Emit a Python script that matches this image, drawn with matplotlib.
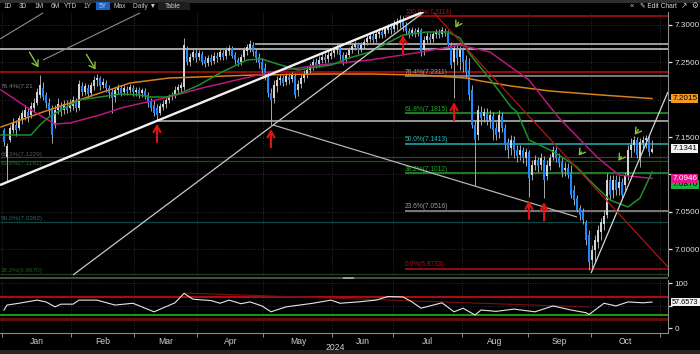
#!/usr/bin/env python3
"""
USDCNH daily candles for 2024 with moving averages, fibonacci levels,
hand drawn trend lines and an RSI panel (dark terminal style)
"""
import numpy as np
import matplotlib
matplotlib.use('Agg')
import matplotlib.pyplot as plt
from matplotlib.patches import Rectangle

plt.rcParams['font.family'] = ['Liberation Sans', 'DejaVu Sans']

# ---------------- daily candles (one line per month, Jan .. Oct) ----------------
opens = [
    7.159, 7.123, 7.146, 7.159, 7.166, 7.162, 7.173, 7.177, 7.184, 7.180, 7.189, 7.196, 7.206, 7.216, 7.206, 7.196, 7.189, 7.166, 7.186, 7.192, 7.186, 7.192, 7.189,
    7.192, 7.197, 7.189, 7.218, 7.210, 7.216, 7.209, 7.218, 7.226, 7.229, 7.220, 7.222, 7.216, 7.210, 7.204, 7.213, 7.216, 7.210, 7.214, 7.213, 7.216,
    7.210, 7.213, 7.209, 7.212, 7.206, 7.197, 7.193, 7.189, 7.182, 7.190, 7.194, 7.200, 7.204, 7.205, 7.213, 7.216, 7.217, 7.267, 7.250, 7.257, 7.263,
    7.257, 7.261, 7.253, 7.249, 7.256, 7.252, 7.258, 7.257, 7.263, 7.258, 7.265, 7.269, 7.260, 7.253, 7.250, 7.257, 7.265, 7.269, 7.273, 7.265, 7.257, 7.250,
    7.242, 7.233, 7.209, 7.202, 7.218, 7.226, 7.229, 7.224, 7.230, 7.228, 7.232, 7.213, 7.221, 7.229, 7.233, 7.240, 7.245, 7.250, 7.248, 7.253, 7.257, 7.254, 7.258,
    7.263, 7.267, 7.269, 7.260, 7.253, 7.260, 7.267, 7.271, 7.275, 7.268, 7.273, 7.277, 7.281, 7.285, 7.281, 7.288, 7.291, 7.288, 7.293, 7.296,
    7.295, 7.300, 7.303, 7.307, 7.299, 7.292, 7.289, 7.292, 7.291, 7.293, 7.267, 7.280, 7.284, 7.281, 7.288, 7.289, 7.288, 7.292, 7.289, 7.273, 7.250, 7.267, 7.257,
    7.267, 7.253, 7.240, 7.213, 7.166, 7.153, 7.184, 7.178, 7.182, 7.173, 7.178, 7.162, 7.157, 7.178, 7.162, 7.143, 7.135, 7.146, 7.133, 7.126, 7.133, 7.122,
    7.130, 7.099, 7.113, 7.119, 7.113, 7.119, 7.098, 7.111, 7.123, 7.133, 7.122, 7.117, 7.106, 7.108, 7.102, 7.079, 7.068, 7.055, 7.050, 7.036, 7.019,
    6.985, 6.999, 7.009, 7.023, 7.034, 7.046, 7.092, 7.079, 7.092, 7.082, 7.090, 7.086, 7.098, 7.133, 7.139, 7.146, 7.122, 7.142, 7.146, 7.149, 7.130,
]
closes = [
    7.143, 7.138, 7.162, 7.170, 7.159, 7.175, 7.182, 7.186, 7.175, 7.192, 7.196, 7.210, 7.220, 7.204, 7.196, 7.186, 7.153, 7.186, 7.194, 7.184, 7.194, 7.186, 7.196,
    7.200, 7.189, 7.221, 7.210, 7.218, 7.208, 7.220, 7.226, 7.229, 7.218, 7.224, 7.216, 7.209, 7.202, 7.213, 7.217, 7.209, 7.216, 7.212, 7.217, 7.210,
    7.213, 7.208, 7.213, 7.206, 7.196, 7.189, 7.182, 7.180, 7.192, 7.194, 7.200, 7.204, 7.205, 7.213, 7.217, 7.220, 7.273, 7.250, 7.257, 7.264, 7.256,
    7.263, 7.250, 7.248, 7.256, 7.250, 7.258, 7.256, 7.264, 7.257, 7.267, 7.269, 7.258, 7.253, 7.249, 7.257, 7.267, 7.271, 7.275, 7.264, 7.256, 7.249, 7.240,
    7.233, 7.209, 7.200, 7.220, 7.226, 7.229, 7.222, 7.232, 7.226, 7.233, 7.206, 7.221, 7.229, 7.233, 7.240, 7.245, 7.250, 7.246, 7.253, 7.257, 7.253, 7.260, 7.263,
    7.267, 7.271, 7.260, 7.250, 7.260, 7.267, 7.272, 7.275, 7.267, 7.273, 7.277, 7.283, 7.285, 7.280, 7.288, 7.291, 7.287, 7.295, 7.297, 7.293,
    7.301, 7.304, 7.307, 7.299, 7.292, 7.288, 7.293, 7.289, 7.293, 7.264, 7.280, 7.285, 7.280, 7.288, 7.291, 7.287, 7.293, 7.289, 7.273, 7.246, 7.269, 7.256, 7.267,
    7.250, 7.237, 7.206, 7.166, 7.146, 7.186, 7.175, 7.184, 7.173, 7.180, 7.159, 7.153, 7.180, 7.162, 7.139, 7.133, 7.146, 7.133, 7.125, 7.133, 7.122, 7.130,
    7.095, 7.113, 7.119, 7.111, 7.122, 7.092, 7.113, 7.122, 7.133, 7.122, 7.115, 7.103, 7.108, 7.099, 7.072, 7.066, 7.052, 7.046, 7.039, 7.012, 6.983,
    6.999, 7.012, 7.026, 7.036, 7.044, 7.092, 7.072, 7.092, 7.079, 7.090, 7.072, 7.098, 7.133, 7.139, 7.146, 7.126, 7.143, 7.146, 7.149, 7.130, 7.1341,
]
highs = [
    7.162, 7.142, 7.166, 7.175, 7.173, 7.180, 7.186, 7.193, 7.189, 7.197, 7.202, 7.216, 7.233, 7.224, 7.210, 7.202, 7.193, 7.193, 7.202, 7.197, 7.200, 7.200, 7.201,
    7.205, 7.202, 7.226, 7.224, 7.222, 7.221, 7.224, 7.232, 7.234, 7.232, 7.229, 7.226, 7.220, 7.216, 7.217, 7.221, 7.220, 7.220, 7.218, 7.221, 7.220,
    7.217, 7.217, 7.216, 7.216, 7.210, 7.202, 7.200, 7.194, 7.196, 7.200, 7.204, 7.208, 7.210, 7.218, 7.221, 7.224, 7.283, 7.272, 7.263, 7.269, 7.268,
    7.267, 7.265, 7.258, 7.260, 7.261, 7.264, 7.264, 7.268, 7.267, 7.271, 7.273, 7.272, 7.264, 7.257, 7.261, 7.271, 7.275, 7.280, 7.277, 7.269, 7.263, 7.256,
    7.249, 7.237, 7.216, 7.226, 7.232, 7.234, 7.233, 7.236, 7.236, 7.237, 7.236, 7.226, 7.234, 7.240, 7.245, 7.249, 7.254, 7.256, 7.258, 7.263, 7.263, 7.265, 7.267,
    7.271, 7.275, 7.273, 7.264, 7.264, 7.271, 7.276, 7.279, 7.277, 7.277, 7.281, 7.287, 7.291, 7.289, 7.293, 7.296, 7.296, 7.299, 7.301, 7.303,
    7.307, 7.309, 7.313, 7.312, 7.304, 7.296, 7.297, 7.296, 7.297, 7.296, 7.285, 7.291, 7.289, 7.292, 7.295, 7.295, 7.297, 7.296, 7.293, 7.277, 7.273, 7.273, 7.272,
    7.271, 7.260, 7.256, 7.220, 7.173, 7.193, 7.192, 7.189, 7.189, 7.186, 7.184, 7.170, 7.186, 7.184, 7.167, 7.149, 7.153, 7.151, 7.139, 7.139, 7.137, 7.135,
    7.133, 7.119, 7.126, 7.123, 7.129, 7.125, 7.119, 7.127, 7.138, 7.137, 7.129, 7.123, 7.117, 7.115, 7.113, 7.086, 7.072, 7.059, 7.055, 7.039, 7.026,
    7.005, 7.019, 7.032, 7.041, 7.052, 7.102, 7.099, 7.099, 7.099, 7.098, 7.095, 7.103, 7.139, 7.149, 7.151, 7.150, 7.149, 7.151, 7.153, 7.151, 7.146,
]
lows = [
    7.138, 7.090, 7.143, 7.155, 7.151, 7.159, 7.167, 7.173, 7.170, 7.175, 7.184, 7.193, 7.202, 7.200, 7.189, 7.180, 7.142, 7.162, 7.181, 7.178, 7.181, 7.182, 7.184,
    7.186, 7.184, 7.186, 7.205, 7.206, 7.202, 7.205, 7.213, 7.218, 7.213, 7.216, 7.210, 7.202, 7.182, 7.197, 7.208, 7.205, 7.206, 7.206, 7.209, 7.205,
    7.205, 7.202, 7.204, 7.201, 7.190, 7.185, 7.178, 7.173, 7.180, 7.186, 7.189, 7.196, 7.200, 7.202, 7.208, 7.210, 7.213, 7.246, 7.245, 7.253, 7.250,
    7.253, 7.246, 7.244, 7.245, 7.246, 7.248, 7.250, 7.253, 7.253, 7.254, 7.260, 7.256, 7.248, 7.245, 7.246, 7.253, 7.260, 7.264, 7.258, 7.250, 7.242, 7.236,
    7.226, 7.204, 7.166, 7.196, 7.210, 7.220, 7.218, 7.220, 7.221, 7.224, 7.202, 7.205, 7.216, 7.224, 7.229, 7.236, 7.240, 7.242, 7.244, 7.249, 7.249, 7.250, 7.254,
    7.257, 7.261, 7.253, 7.246, 7.249, 7.256, 7.263, 7.267, 7.261, 7.264, 7.269, 7.273, 7.277, 7.275, 7.277, 7.283, 7.283, 7.284, 7.289, 7.288,
    7.291, 7.293, 7.296, 7.292, 7.287, 7.283, 7.285, 7.284, 7.285, 7.258, 7.260, 7.275, 7.275, 7.277, 7.283, 7.283, 7.284, 7.285, 7.269, 7.242, 7.202, 7.246, 7.240,
    7.237, 7.229, 7.200, 7.162, 7.084, 7.146, 7.166, 7.170, 7.166, 7.162, 7.146, 7.146, 7.149, 7.157, 7.133, 7.122, 7.126, 7.122, 7.117, 7.119, 7.115, 7.111,
    7.070, 7.092, 7.106, 7.103, 7.106, 7.068, 7.092, 7.106, 7.119, 7.117, 7.110, 7.096, 7.098, 7.095, 7.068, 7.059, 7.050, 7.039, 7.034, 7.005, 6.972,
    6.975, 6.983, 7.001, 7.012, 7.026, 7.041, 7.066, 7.068, 7.072, 7.072, 7.068, 7.079, 7.092, 7.123, 7.130, 7.122, 7.110, 7.133, 7.135, 7.125, 7.129,
]

# ---------------- moving averages (day index, price) ----------------
ma_green_x = [-1, 9, 12, 15, 19, 25, 32, 39, 45, 49, 54, 59, 65, 72, 81, 86, 90, 98, 102, 109,
              115, 122, 133, 141, 148, 152, 155, 163, 169, 171, 175, 182, 186, 191, 195, 202, 208, 212, 216]
ma_green_y = [7.1527, 7.1527, 7.1661, 7.1768, 7.1862, 7.1996, 7.2036, 7.2076, 7.2063, 7.2036,
              7.2036, 7.2089, 7.2196, 7.2357, 7.2531, 7.2545, 7.2491, 7.2397, 7.2424, 7.2464,
              7.2558, 7.2638, 7.2866, 7.2906, 7.2906, 7.2826, 7.2625, 7.2223, 7.1902, 7.1835,
              7.1460, 7.1326, 7.1232, 7.1098, 7.0924, 7.0656, 7.0563, 7.0683, 7.1031]
ma_mag_x = [-1, 9, 17, 22, 32, 39, 55, 66, 89, 105, 122, 139, 152, 162, 175, 185, 198, 205, 216]
ma_mag_y = [7.2130, 7.1862, 7.1674, 7.1688, 7.1795, 7.1889, 7.2036, 7.2156, 7.2371, 7.2464,
            7.2531, 7.2638, 7.2732, 7.2638, 7.2263, 7.1755, 7.1219, 7.0991, 7.0946]
ma_orange_x = [-1, 13, 28, 42, 55, 83, 105, 122, 139, 154, 159, 169, 182, 199, 216]
ma_orange_y = [7.1634, 7.1835, 7.2036, 7.2223, 7.2290, 7.2330, 7.2344, 7.2344, 7.2330, 7.2290,
               7.2250, 7.2183, 7.2116, 7.2063, 7.2015]

# ---------------- RSI (day index, value) ----------------
rsi_x = [0, 1, 5, 11, 14, 17, 19, 23, 25, 31, 37, 43, 50, 57, 60, 63, 69, 72, 75, 79,
         82, 86, 89, 94, 103, 109, 112, 118, 124, 128, 133, 136, 139, 146, 150, 153, 157, 159, 164, 170,
         177, 183, 189, 194, 195, 200, 204, 208, 213, 216]
rsi_v = [40, 51, 55, 62, 58, 47, 53, 53, 62, 62, 51, 55, 36, 56, 77, 64, 61, 55, 62, 54,
         58, 49, 36, 47, 55, 62, 55, 58, 62, 70, 69, 58, 44, 56, 36, 44, 29, 40, 37, 42,
         36, 49, 40, 34, 30, 55, 49, 58, 56, 57.6573]
rsi_levels = [70, 30, 21]

# ---------------- drawn levels and lines ----------------
fib_right = [7.3114, 7.2311, 7.1815, 7.1413, 7.1012, 7.0516, 6.9733]
fib_right_names = ['100.0%', '76.4%', '61.8%', '50.0%', '38.2%', '23.6%', '0.0%']
fib_left = [7.2140, 7.1229, 7.1181, 7.0362, 6.9670]
fib_left_names = ['76.4%(7.21', '66.3%(7.1229)', '61.8%(7.1181)', '50.0%(7.0362)', '38.2%(6.9670)']
hlines_p = [7.2752, 7.2685, 7.2377, 7.1714]
hlines_from = [83.7, -1.5, -1.5, 51.3]

trend_x0 = [-1.33, 23.0, -1.33, 13.0, 89.7, 195.7, 143.0]
trend_p0 = [7.0857, 6.9652, 7.2813, 7.2531, 7.1661, 6.9680, 7.3174]
trend_x1 = [139.7, 140.0, 13.0, 45.3, 191.0, 221.3, 221.3]
trend_p1 = [7.3174, 7.3174, 7.3161, 7.3161, 7.0429, 7.2103, 6.9759]
rsi_trend_x = [60, 195]
rsi_trend_v = [77.8, 46.7]

red_arrow_days = [51, 89, 133, 150, 175, 180]
green_tip_x = [12, 31, 150, 191, 204.3, 209.7]
green_tip_p = [7.240, 7.237, 7.293, 7.122, 7.115, 7.150]
green_tail_x = [8, 27, 152, 193, 206.3, 212]
green_tail_p = [7.267, 7.264, 7.307, 7.133, 7.127, 7.163]

months = ['Jan', 'Feb', 'Mar', 'Apr', 'May', 'Jun', 'Jul', 'Aug', 'Sep', 'Oct']
month_start = [0, 23, 44, 65, 87, 110, 130, 153, 175, 196, 219]

# ---------------- figure ----------------
W, H = 700.0, 354.0
fig = plt.figure(figsize=(7.0, 3.54), dpi=100)
fig.patch.set_facecolor('black')

ax = fig.add_axes([0, 1 - 276 / H, 668 / W, (276 - 12) / H])
rx = fig.add_axes([0, 1 - 333 / H, 668 / W, (333 - 280) / H])
XMIN, XMAX = -1.33, 221.33
for a in (ax, rx):
    a.set_facecolor('black')
    for s in ('top', 'left', 'bottom'):
        a.spines[s].set_visible(False)
    a.spines['right'].set_color('#8c8c8c')
    a.spines['right'].set_linewidth(0.8)
    a.set_xlim(XMIN, XMAX)
    a.yaxis.tick_right()
    for m in month_start:
        a.axvline(m - 0.5, color='#3a3a3a', lw=0.6, ls=(0, (1, 2)), zorder=0)

grid_col = '#3a3a3a'
ax.set_ylim(6.9639, 7.3174)
yt = [7.00, 7.05, 7.10, 7.15, 7.20, 7.25, 7.30]
ax.set_yticks(yt)
# 7.2000 and 7.1000 sit under the value boxes in the terminal view
ax.set_yticklabels(['' if v in (7.10, 7.20) else '%.4f' % v for v in yt])
for v in yt:
    ax.axhline(v, color=grid_col, lw=0.6, ls=(0, (1, 2)), zorder=0)
ax.tick_params(axis='y', colors='#e0e0e0', labelsize=5.9, length=3, width=0.9, pad=1.5)
ax.set_xticks([])

# horizontal levels
ax.hlines(hlines_p[0], hlines_from[0], XMAX, color='#a9a9a9', lw=1.3, zorder=1)
ax.hlines(hlines_p[1], hlines_from[1], XMAX, color='#b4b4b4', lw=1.3, zorder=1)
ax.hlines(hlines_p[2], hlines_from[2], XMAX, color='#a30c0c', lw=1.3, zorder=1)
ax.hlines(hlines_p[3], hlines_from[3], XMAX, color='#a5a5a5', lw=1.3, zorder=1)

right_cols = ['#b30f0f', '#9b9b9b', '#22a32a', '#22b4b4', '#22a32a', '#9b9b9b', '#b30f0f']
fib_x0 = 133.7
for lev, name, col in zip(fib_right, fib_right_names, right_cols):
    ax.hlines(lev, fib_x0, XMAX, color=col, lw=1.1, zorder=1)
    ax.text(fib_x0, lev + 0.0008, '%s(%.4f)' % (name, lev), color=col, fontsize=4.8,
            ha='left', va='bottom', zorder=2)

left_cols = ['#6a6a6a', '#3c3c3c', '#145214', '#0f4545', '#1f3f1f']
left_txt_cols = ['#7a7a7a', '#4a5a4a', '#1f6a1f', '#1d6b6b', '#1f5a1f']
left_va = ['bottom', 'bottom', 'top', 'bottom', 'bottom']
for lev, name, col, tcol, va in zip(fib_left, fib_left_names, left_cols, left_txt_cols, left_va):
    if lev < 7.2:
        ax.hlines(lev, XMIN, XMAX, color=col, lw=0.9, zorder=1)
    off = 0.0008 if va == 'bottom' else -0.0008
    ax.text(-1.0, lev + off, name, color=tcol, fontsize=4.6, ha='left', va=va, zorder=1)

# candles
x = np.arange(len(closes))
o = np.array(opens)
c = np.array(closes)
h = np.array(highs)
l = np.array(lows)
up = c >= o
ax.vlines(x, l, h, color='#a8a8a8', lw=0.7, zorder=3)
bottom = np.minimum(o, c)
height = np.maximum(np.abs(c - o), 0.0009)
ax.bar(x[up], height[up], bottom=bottom[up], width=0.62, color='#d2d2d2', lw=0, zorder=4)
ax.bar(x[~up], height[~up], bottom=bottom[~up], width=0.62, color='#1e88ff', lw=0, zorder=4)

# moving averages
ax.plot(ma_orange_x, ma_orange_y, color='#d9801a', lw=1.1, zorder=5)
ax.plot(ma_mag_x, ma_mag_y, color='#b8177f', lw=1.1, zorder=5)
ax.plot(ma_green_x, ma_green_y, color='#1d8f2b', lw=1.1, zorder=5)

# trend lines
trend_cols = ['#f2f2f2', '#c8c8c8', '#8c8c8c', '#8c8c8c', '#b4b4b4', '#d6d6d6', '#b01515']
trend_lws = [1.7, 0.9, 0.8, 0.8, 0.9, 0.9, 0.9]
for i in range(len(trend_x0)):
    ax.plot([trend_x0[i], trend_x1[i]], [trend_p0[i], trend_p1[i]],
            color=trend_cols[i], lw=trend_lws[i], zorder=6, solid_capstyle='butt')

# arrows
for d in red_arrow_days:
    tip = lows[d] - 0.0015
    ax.annotate('', xy=(d, tip), xytext=(d, tip - 0.032),
                arrowprops=dict(arrowstyle='->,head_length=0.45,head_width=0.25',
                                color='#e01212', lw=1.5), zorder=7)
for tx, tp, sx, sp in zip(green_tip_x, green_tip_p, green_tail_x, green_tail_p):
    ax.annotate('', xy=(tx, tp), xytext=(sx, sp),
                arrowprops=dict(arrowstyle='->,head_length=0.4,head_width=0.25',
                                color='#86c23a', lw=1.0), zorder=7)

# value boxes on the price axis
def price_box(axis, val, text, fc, tc, size=5.9):
    axis.annotate(text, xy=(1, val), xycoords=('axes fraction', 'data'),
                  xytext=(3.0, 0), textcoords='offset points', va='center', ha='left',
                  fontsize=size, color=tc, annotation_clip=False, zorder=10,
                  bbox=dict(boxstyle='square,pad=0.12', fc=fc, ec='none'))

price_box(ax, ma_orange_y[-1], '%.4f' % ma_orange_y[-1], '#f39a1e', 'black')
price_box(ax, closes[-1], '%.4f' % closes[-1], '#f2f2f2', 'black')
price_box(ax, 7.0870, '7.0870', '#20b040', 'black')
price_box(ax, ma_mag_y[-1], '%.4f' % ma_mag_y[-1], '#e3168c', 'white')

# ---------------- RSI panel ----------------
rx.set_ylim(-11.1, 106.7)
rx.set_yticks([0, 50, 100])
rx.set_yticklabels(['0', '', '100'])
rx.tick_params(axis='y', colors='#e0e0e0', labelsize=5.9, length=3, width=0.9, pad=1.5)
rx.axhline(100, color=grid_col, lw=0.6, ls=(0, (1, 2)), zorder=0)
rx.axhline(50, color=grid_col, lw=0.6, ls=(0, (1, 2)), zorder=0)
rx.axhline(rsi_levels[0], color='#b00c0c', lw=1.4, zorder=1)
rx.axhline(rsi_levels[1], color='#1fc41f', lw=1.1, zorder=1)
rx.axhline(rsi_levels[2], color='#6e0a0a', lw=2.0, zorder=1)
rx.plot(rsi_trend_x, rsi_trend_v, color='#7a1010', lw=0.8, zorder=2)
rx.plot(rsi_x, rsi_v, color='#e6e6e6', lw=0.8, zorder=3)
price_box(rx, rsi_v[-1], '%.4f' % rsi_v[-1], '#f2f2f2', 'black', size=5.3)

centers = [(month_start[i] + month_start[i + 1]) / 2 - 0.5 for i in range(len(months))]
rx.set_xticks(centers)
rx.set_xticklabels(months)
rx.set_xticks([m - 0.5 for m in month_start], minor=True)
rx.tick_params(axis='x', which='major', length=0, colors='#cfcfcf', labelsize=6.2, pad=3)
rx.tick_params(axis='x', which='minor', length=3, color='#8c8c8c', width=0.7)
rx.spines['bottom'].set_visible(True)
rx.spines['bottom'].set_color('#8c8c8c')
rx.spines['bottom'].set_linewidth(0.8)
fig.text(335 / W, 1 - 348 / H, '2024', color='#cfcfcf', fontsize=6.2, ha='center', va='center')

# ---------------- frame decorations ----------------
fig.add_artist(Rectangle((0, 1 - 279 / H), 668 / W, 2.5 / H, transform=fig.transFigure,
                         fc='#4a4a4a', ec='none'))
fig.add_artist(Rectangle((343 / W, 1 - 279 / H), 11 / W, 2.0 / H, transform=fig.transFigure,
                         fc='#9a9a9a', ec='none'))
fig.add_artist(Rectangle((0, 0), 1, 4 / H, transform=fig.transFigure, fc='#262626', ec='none'))

# toolbar
fig.add_artist(Rectangle((0, 1 - 2.5 / H), 1, 2.5 / H, transform=fig.transFigure,
                         fc='#2e2e2e', ec='none'))
buttons = ['1D', '3D', '1M', '6M', 'YTD', '1Y', '5Y', 'Max', 'Daily \u25bc', 'Table']
btn_x = [8, 23, 39, 55, 70, 88, 103, 120, 145, 173]
for lab, bx in zip(buttons, btn_x):
    if lab == '5Y':
        fig.add_artist(Rectangle((96 / W, 1 - 10 / H), 14 / W, 7.5 / H,
                                 transform=fig.transFigure, fc='#1a62c4', ec='none'))
    if lab == 'Table':
        fig.add_artist(Rectangle((158 / W, 1 - 10 / H), 32 / W, 7.5 / H,
                                 transform=fig.transFigure, fc='#1e1e1e', ec='none'))
    fig.text(bx / W, 1 - 6.3 / H, lab, color='#c8c8c8', fontsize=4.8, ha='center', va='center')
fig.text(632 / W, 1 - 6.3 / H, '\u00ab', color='#c8c8c8', fontsize=5.5, ha='center', va='center')
fig.text(658 / W, 1 - 6.3 / H, '\u270e Edit Chart', color='#d8d8d8', fontsize=4.8,
         ha='center', va='center')
fig.text(684 / W, 1 - 6.3 / H, '\u2197', color='#c8c8c8', fontsize=5.5, ha='center', va='center')
fig.text(695 / W, 1 - 6.3 / H, '\u2699', color='#c8c8c8', fontsize=5.5, ha='center', va='center')

fig.savefig('out.png', dpi=100, facecolor='black')
